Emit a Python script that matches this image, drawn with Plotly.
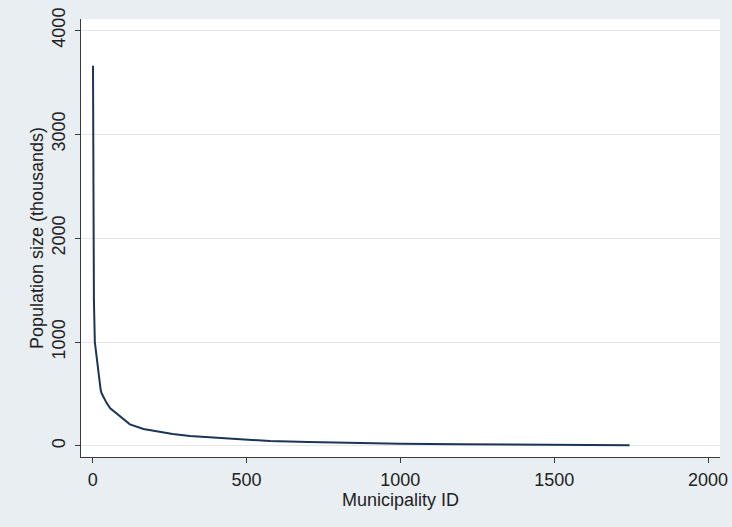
import plotly.graph_objects as go

# Population (thousands) by municipality ID, sorted descending
municipality_id = [1, 2, 3, 4, 7, 13, 18, 24, 26, 29, 34, 45, 57, 78, 100, 121, 165, 208, 260, 316, 424, 576, 700, 869, 1000, 1194, 1486, 1745]
population_thousands = [3660, 2880, 1500, 1400, 1000, 860, 700, 603, 538, 507, 474, 415, 362, 314, 256, 208, 163, 138, 115, 96, 74, 48, 38, 26, 21, 16, 10, 7]

x_ticks = [0, 500, 1000, 1500, 2000]
y_ticks = [0, 1000, 2000, 3000, 4000]

BG = "#E9EEF2"
AXIS = "#3a3a3a"
FONT = "Liberation Sans, Arial, sans-serif"

fig = go.Figure()
fig.add_trace(go.Scatter(
    x=municipality_id, y=population_thousands, mode="lines",
    line=dict(color="#1b3556", width=2), hoverinfo="skip", showlegend=False))

fig.update_layout(
    width=732, height=527,
    paper_bgcolor=BG, plot_bgcolor="white",
    margin=dict(l=81, r=12, t=19, b=70, autoexpand=False),
    font=dict(family=FONT, size=18, color="#222222"),
    showlegend=False,
)
fig.update_xaxes(
    range=[-38, 2039], tickvals=x_ticks, ticktext=[str(v) for v in x_ticks],
    showline=True, linecolor=AXIS, linewidth=1.3, mirror=False,
    ticks="outside", ticklen=5, tickcolor=AXIS, tickwidth=1,
    showgrid=False, zeroline=False, ticklabelstandoff=1, automargin=False,
    title=dict(text="Municipality ID", font=dict(size=18), standoff=1),
)
fig.update_yaxes(
    range=[-106, 4109], tickvals=y_ticks, ticktext=[str(v) for v in y_ticks],
    tickangle=-90, automargin=False,
    showline=True, linecolor=AXIS, linewidth=1.3, mirror=False,
    ticks="outside", ticklen=5, tickcolor=AXIS, tickwidth=1,
    showgrid=True, gridcolor="#E4E7EA", gridwidth=1, zeroline=False,
    ticklabelstandoff=3,
    title=dict(text="Population size (thousands)", font=dict(size=18), standoff=0),
)

fig.write_html(
    "out.html",
    config={"displayModeBar": False},
    post_script="document.body.style.margin='0';document.body.style.padding='0';document.body.style.background='%s';" % BG,
)
